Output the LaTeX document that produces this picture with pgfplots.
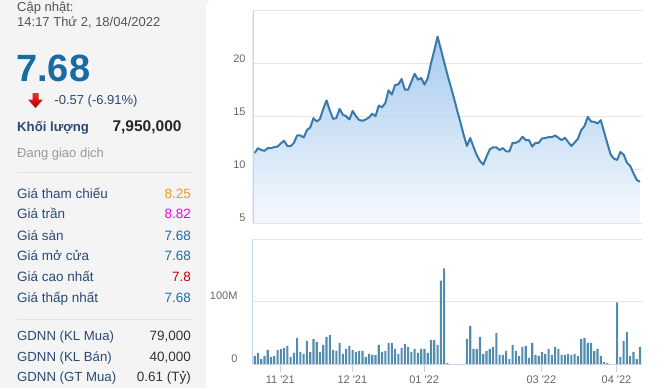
\documentclass[border=0pt]{standalone}
\usepackage{pgfplots}
\pgfplotsset{compat=1.18}
\usepackage{pgfplotstable}
\usepackage{fontspec}
\setmainfont{Liberation Sans}
\definecolor{gridc}{HTML}{E6E6E6}
\definecolor{axc}{HTML}{C4D2EA}
\definecolor{labc}{HTML}{666666}
\definecolor{linec}{HTML}{3A7AAB}
\definecolor{areac}{HTML}{6AA6E4}
\definecolor{barc}{HTML}{528DB0}
\definecolor{panel}{HTML}{F4F4F4}
\definecolor{bigblue}{HTML}{1A6AA3}
\definecolor{valblue}{HTML}{1D6BA5}
\definecolor{navy}{HTML}{2B4A73}
\definecolor{grayt}{HTML}{555555}
\definecolor{lightt}{HTML}{999999}
\definecolor{orangev}{HTML}{F7941D}
\definecolor{magv}{HTML}{F000F0}
\definecolor{redv}{HTML}{CC0000}
\definecolor{sepc}{HTML}{E2E2E2}
\definecolor{darkv}{HTML}{333333}
\pgfdeclareverticalshading{areash}{100bp}{color(0bp)=(white); color(22bp)=(white!96!areac); color(100bp)=(areac)}
\newcommand{\fs}[1]{\fontsize{#1bp}{#1bp}\selectfont}

\pgfplotstableread{
i p
0 11.6
1 12.05
2 11.88
3 11.8
4 12.05
5 12.05
6 12.15
7 12.2
8 12.5
9 12.75
10 12.25
11 12.25
12 12.55
13 13.25
14 13.25
15 13.05
16 13.75
17 14.0
18 14.88
19 14.56
20 14.81
21 15.75
22 16.56
23 15.6
24 14.81
25 14.88
26 15.75
27 15.2
28 15.06
29 14.75
30 15.56
31 15.06
32 14.7
33 14.63
34 14.75
35 14.94
36 15.3
37 15.06
38 16.06
39 15.9
40 16.3
41 17.5
42 17.1
43 18.0
44 18.06
45 18.56
46 17.56
47 17.56
48 18.34
49 19.06
50 18.5
51 18.66
52 18.03
53 18.66
54 20.06
55 21.25
56 22.56
57 21.4
58 20.2
59 19.0
60 17.9
61 16.8
62 15.6
63 14.5
64 13.3
65 12.25
66 13.0
67 12.19
68 11.4
69 10.84
70 10.5
71 11.25
72 11.94
73 12.13
74 12.13
75 11.88
76 12.06
77 11.75
78 11.75
79 12.56
80 12.56
81 12.72
82 13.13
83 12.81
84 12.81
85 12.19
86 12.56
87 12.56
88 12.97
89 13.0
90 13.09
91 13.09
92 13.25
93 13.03
94 12.81
95 13.03
96 12.63
97 12.25
98 12.59
99 12.94
100 13.75
101 14.13
102 15.0
103 14.56
104 14.53
105 14.38
106 14.69
107 13.59
108 12.5
109 11.47
110 11.06
111 10.94
112 11.69
113 11.44
114 10.69
115 10.38
116 9.69
117 9.06
118 8.88
}\pricetab

\pgfplotstableread{
i v
0 12.9
1 17.7
2 8
3 12.9
4 22.6
5 11.3
6 12.9
7 22.6
8 24.2
9 25.8
10 29
11 11.3
12 17.7
13 41.9
14 19.4
15 16.1
16 37.1
17 19.4
18 40.3
19 35.5
20 19.4
21 30.6
22 43.5
23 46.8
24 22.6
25 21
26 33.9
27 16.1
28 24.2
29 29
30 22.6
31 19.4
32 21
33 21
34 11.3
35 16.1
36 14.5
37 14.5
38 30.6
39 19.4
40 21
41 33.9
42 33.9
43 24.2
44 16.1
45 25.8
46 32.3
47 27.4
48 19.4
49 24.2
50 17.7
51 24.2
52 24.2
53 17.7
54 38.7
55 38.7
56 30.6
57 133.9
58 153.2
59 1.6
60 0
61 0
62 0
63 0
64 0
65 40.3
66 61.3
67 24.2
68 24.2
69 43.5
70 16.1
71 21
72 24.2
73 27.4
74 50
75 14.5
76 14.5
77 21
78 8
79 30.6
80 21
81 12.9
82 27.4
83 29
84 9.7
85 33.9
86 14.5
87 12.9
88 19.4
89 16.1
90 24.2
91 14.5
92 27.4
93 24.2
94 14.5
95 14.5
96 16.1
97 14.5
98 16.1
99 12.9
100 40.3
101 41.9
102 33.9
103 33.9
104 21
105 24.2
106 12.9
107 3.2
108 1.6
109 0
110 0
111 98.9
112 11.3
113 37.1
114 51.6
115 12.9
116 19.4
117 8
118 27.4
}\voltab

\begin{document}
\begin{tikzpicture}[x=1bp,y=1bp]
\path[use as bounding box] (0,0) rectangle (664,388);
\fill[panel] (0,0) rectangle (206,388);
\fill[panel] (206,388) -- (212,388) arc[start angle=90, end angle=180, radius=6] -- cycle;

% ---- left info panel ----
\node[anchor=base west, inner sep=0, text=grayt, font=\fs{13}] at (17,376.5) {Cập nhật:};
\node[anchor=base west, inner sep=0, text=grayt, font=\fs{13}] at (17,361.3) {14:17 Thứ 2, 18/04/2022};
\node[anchor=base west, inner sep=0, text=bigblue, font=\fs{38}\bfseries] at (16,306.3) {7.68};
\shade[top color=red!85!white, bottom color=red!65!black]
  (32.5,295) -- (38.5,295) -- (38.5,288.5) -- (43,288.5) -- (35.5,280) -- (28,288.5) -- (32.5,288.5) -- cycle;
\node[anchor=base west, inner sep=0, text=navy, font=\fs{13}] at (54.3,284) {-0.57 (-6.91\%)};
\node[anchor=base west, inner sep=0, text=navy, font=\fs{13.2}\bfseries] at (17,256.3) {Khối lượng};
\node[anchor=base east, inner sep=0, text=black!85, font=\fs{15.5}\bfseries] at (181.7,256.3) {7,950,000};
\node[anchor=base west, inner sep=0, text=lightt, font=\fs{13}] at (17,230.7) {Đang giao dịch};
\draw[sepc, line width=1bp] (17,215.3) -- (192,215.3);

\foreach \lab/\val/\col/\yy in {Giá tham chiếu/8.25/orangev/189.7, Giá trần/8.82/magv/169.2, Giá sàn/7.68/valblue/147.8, Giá mở cửa/7.68/valblue/127.2, Giá cao nhất/7.8/redv/106.2, Giá thấp nhất/7.68/valblue/85.2}{
  \node[anchor=base west, inner sep=0, text=navy, font=\fs{13.5}] at (17,\yy) {\lab};
  \node[anchor=base east, inner sep=0, text=\col, font=\fs{13.5}] at (191,\yy) {\val};
}
\draw[sepc, line width=1bp] (17,68.7) -- (192,68.7);
\foreach \lab/\val/\yy in {GDNN (KL Mua)/79{,}000/47.3, GDNN (KL Bán)/40{,}000/27, GDNN (GT Mua)/0.61 (Tỷ)/6.5}{
  \node[anchor=base west, inner sep=0, text=navy, font=\fs{13.2}] at (17,\yy) {\lab};
  \node[anchor=base east, inner sep=0, text=darkv, font=\fs{13.5}] at (191,\yy) {\val};
}

% ---- price chart ----
\begin{axis}[
  at={(252.7bp,165bp)}, anchor=south west, scale only axis,
  width=389bp, height=212.3bp,
  xmin=-0.613, xmax=118.53, ymin=5, ymax=25,
  axis line style={draw=none},
  xtick=\empty,
  ytick={5,10,15,20,25}, yticklabels={5,10,15,20,{}},
  ymajorgrids, grid style={gridc, line width=1bp},
  major tick length=0pt, ytick style={draw=none},
  yticklabel style={font=\fs{11}, text=labc, anchor=east, inner sep=0pt, xshift=-7bp, yshift=5.5bp},
]
\addplot[shading=areash, fill opacity=0.85, draw=none] table[x=i, y=p] {\pricetab} \closedcycle;
\addplot[linec, line width=2bp, line join=round] table[x=i, y=p] {\pricetab};
\draw[axc, line width=2bp] (rel axis cs:0,0) -- (rel axis cs:0,1);
\end{axis}

% ---- volume chart ----
\begin{axis}[
  at={(252.7bp,24bp)}, anchor=south west, scale only axis,
  width=389bp, height=124.7bp,
  xmin=-0.613, xmax=118.53, ymin=0, ymax=200,
  axis line style={draw=none},
  ytick={0,100,200}, yticklabels={0,100M,{}},
  ymajorgrids, grid style={gridc, line width=1bp},
  xtick={7.85,29.9,51.9,87.8,110.8},
  xticklabels={11 \textquotesingle21, 12 \textquotesingle21, 01 \textquotesingle22, 03 \textquotesingle22, 04 \textquotesingle22},
  xtick pos=left, tick align=outside, major tick length=8bp,
  xtick style={axc, line width=1bp},
  ytick style={draw=none},
  yticklabel style={font=\fs{11}, text=labc, anchor=east, inner sep=0pt, xshift=-7bp, yshift=5.5bp},
  xticklabel style={font=\fs{11}, text=labc, anchor=base, inner sep=0pt, yshift=-11bp},
  clip=false,
]
\addplot[ybar, bar width=2.1bp, fill=barc, draw=none] table[x=i, y=v] {\voltab};
\draw[axc, line width=1bp] (rel axis cs:0,0) -- (rel axis cs:0,1);
\draw[axc, line width=1bp] (rel axis cs:0,0) -- (rel axis cs:1,0);
\end{axis}
\end{tikzpicture}
\end{document}
